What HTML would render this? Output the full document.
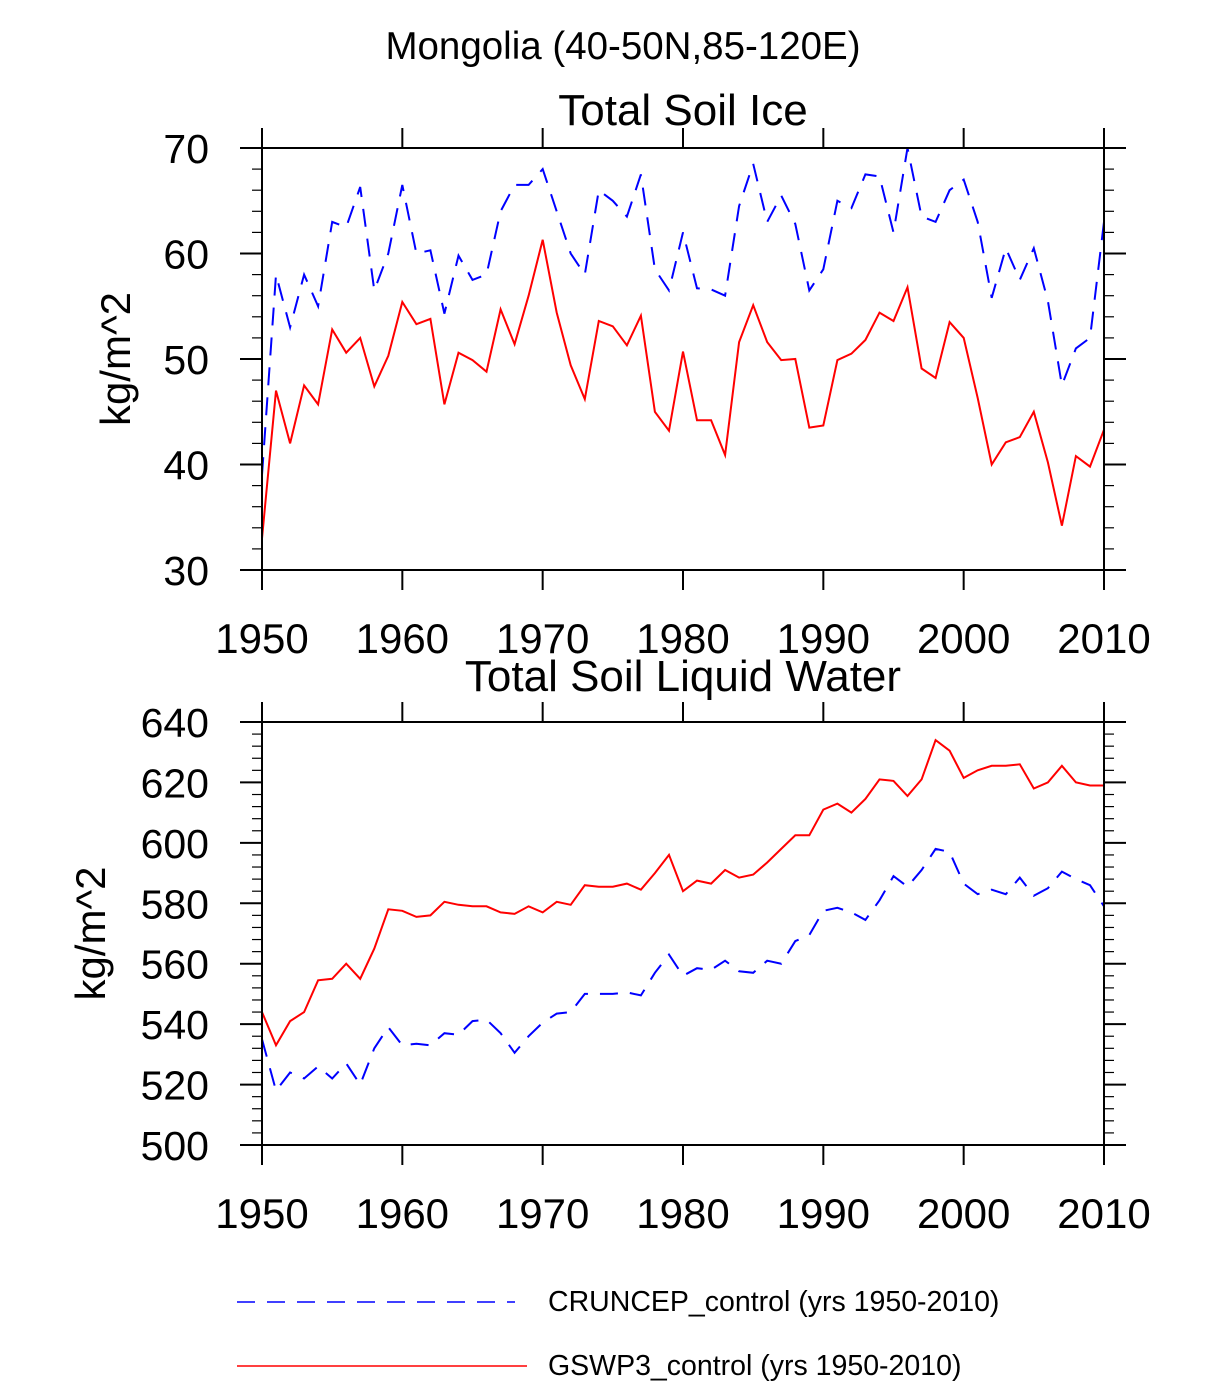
<!DOCTYPE html>
<html><head><meta charset="utf-8">
<style>
html,body{margin:0;padding:0;background:#fff;}
svg{display:block;font-family:"Liberation Sans",Arial,sans-serif;}
</style></head>
<body>
<svg id="chart" width="1224" height="1382" viewBox="0 0 1224 1382">
<text x="623" y="59" font-size="38.5" text-anchor="middle">Mongolia (40-50N,85-120E)</text>
<g id="p1"></g>
<g id="p2"></g>
<g id="legend">
<line x1="237" y1="1302" x2="515" y2="1302" stroke="#0000ff" stroke-width="1.5" stroke-dasharray="18,12"/>
<text x="548" y="1311" font-size="28.5">CRUNCEP_control (yrs 1950-2010)</text>
<line x1="237" y1="1366" x2="527" y2="1366" stroke="#ff0000" stroke-width="1.5"/>
<text x="548" y="1375" font-size="28.5">GSWP3_control (yrs 1950-2010)</text>
</g>
</svg>
<script>
const years = [];
for (let y = 1950; y <= 2010; y++) years.push(y);
const xTicks = [1950,1960,1970,1980,1990,2000,2010];
const iceYTicks = [30,40,50,60,70];
const liqYTicks = [500,520,540,560,580,600,620,640];
const iceGswp3 = [33,47,42,47.5,45.7,52.8,50.6,52,47.4,50.3,55.4,53.3,53.8,45.7,50.6,49.9,48.8,54.7,51.4,56,61.3,54.4,49.4,46.2,53.6,53.1,51.3,54.1,45,43.2,50.7,44.2,44.2,40.9,51.6,55.1,51.6,49.9,50,43.5,43.7,49.9,50.5,51.8,54.4,53.6,56.8,49.1,48.2,53.5,52,46.3,40,42.1,42.6,45,40.2,34.2,40.8,39.8,43.3];
const iceCruncep = [39,58,53,58,55,63,62.5,66.3,56.5,60,66.5,60,60.3,54.3,59.8,57.5,58,64,66.5,66.5,68,64,60,58,66,65,63.5,67.5,58.5,56.5,62,56.7,56.6,56,64.5,68.5,63,65.5,62.8,56.5,58.5,65,64.3,67.5,67.3,62,70,63.5,63,66,67,63,55.8,60.5,57.5,60.5,55.5,47.5,51,52,63];
const liqGswp3 = [544,533,541,544,554.5,555,560,555,565,578,577.5,575.5,576,580.5,579.5,579,579,577,576.5,579,577,580.5,579.5,586,585.5,585.5,586.5,584.5,590,596,584,587.5,586.5,591,588.5,589.5,593.5,598,602.5,602.5,611,613,610,614.5,621,620.5,615.5,621,634,630.5,621.5,624,625.5,625.5,626,618,620,625.5,620,619,619];
const liqCruncep = [535,518,524,522,526,522,527,520,532,539,533,533.5,533,537,536.5,541,541.5,537,530.5,536,540.5,543.5,544,550,550,550,550.5,549.5,557,563,556,558.5,558,561,557.5,557,561,560,567.5,569.5,577.5,578.5,577,574.5,581,589,585.5,591,598,597,586.5,583,584.5,583,588.5,582.5,585,590.5,588,586,579];

const NS = "http://www.w3.org/2000/svg";
function mk(parent, tag, attrs){ const e=document.createElementNS(NS,tag); for(const k in attrs) e.setAttribute(k,attrs[k]); parent.appendChild(e); return e; }

function panel(g, cfg){
  const {L,R,T,B,ymin,ymax,yticks,minorStep,title,titleY,yTitleX,series} = cfg;
  const xs = v => L + (v-1950)/(2010-1950)*(R-L);
  const ys = v => B - (v-ymin)/(ymax-ymin)*(B-T);
  const t = mk(g,'text',{x:(L+R)/2,y:titleY,'font-size':44,'text-anchor':'middle'});
  t.textContent = title;
  
  
  for(let v=ymin; v<=ymax+1e-9; v+=minorStep){
    const y=ys(v);
    const l1=mk(g,'line',{x1:L-10,y1:y,x2:L,y2:y,stroke:'#000','stroke-width':1.2});
    
    
    const l2=mk(g,'line',{x1:R,y1:y,x2:R+10,y2:y,stroke:'#000','stroke-width':1.2});
    
    
  }
  yticks.forEach(v=>{
    const y=ys(v);
    const a=mk(g,'line',{x1:L-22,y1:y,x2:L,y2:y,stroke:'#000','stroke-width':2});
    
    
    const b=mk(g,'line',{x1:R,y1:y,x2:R+22,y2:y,stroke:'#000','stroke-width':2});
    
    
    const tx=mk(g,'text',{x:L-53,y:y+15,'font-size':41,'text-anchor':'end'});
    tx.textContent=v;
    
    
  });
  xTicks.forEach(v=>{
    const x=xs(v);
    const a=mk(g,'line',{x1:x,y1:T-20,x2:x,y2:T,stroke:'#000','stroke-width':2});
    
    
    const b=mk(g,'line',{x1:x,y1:B,x2:x,y2:B+20,stroke:'#000','stroke-width':2});
    
    
    const tx=mk(g,'text',{x:x,y:B+83,'font-size':42,'text-anchor':'middle'});
    tx.textContent=v;
    
    
  });
  const yl=mk(g,'text',{x:0,y:0,'font-size':42,'text-anchor':'middle',transform:`translate(${yTitleX},${(T+B)/2}) rotate(-90)`});
  yl.textContent='kg/m^2';
  
  
  series.forEach(s=>{
    const pts=s.data.map((v,i)=>xs(years[i]).toFixed(1)+','+ys(v).toFixed(1)).join(' ');
    const p=mk(g,'polyline',{points:pts,fill:'none',stroke:s.color,'stroke-width':2,'stroke-dasharray':s.dash||'none','stroke-linejoin':'miter'});
    
    
  });
  const f=mk(g,'rect',{x:L,y:T,width:R-L,height:B-T,fill:'none',stroke:'#000','stroke-width':2});
  
  
}

panel(document.getElementById('p1'),{L:262,R:1104,T:148,B:570,ymin:30,ymax:70,yticks:iceYTicks,minorStep:2,
  title:'Total Soil Ice',titleY:125,yTitleX:130,
  series:[{data:iceCruncep,color:'#0000ff',dash:'18,12',name:'ice-cruncep-line'},{data:iceGswp3,color:'#ff0000',name:'ice-gswp3-line'}]});
panel(document.getElementById('p2'),{L:262,R:1104,T:722,B:1145,ymin:500,ymax:640,yticks:liqYTicks,minorStep:4,
  title:'Total Soil Liquid Water',titleY:691,yTitleX:105,
  series:[{data:liqCruncep,color:'#0000ff',dash:'18,12',name:'liquid-cruncep-line'},{data:liqGswp3,color:'#ff0000',name:'liquid-gswp3-line'}]});
</script>
</body></html>
